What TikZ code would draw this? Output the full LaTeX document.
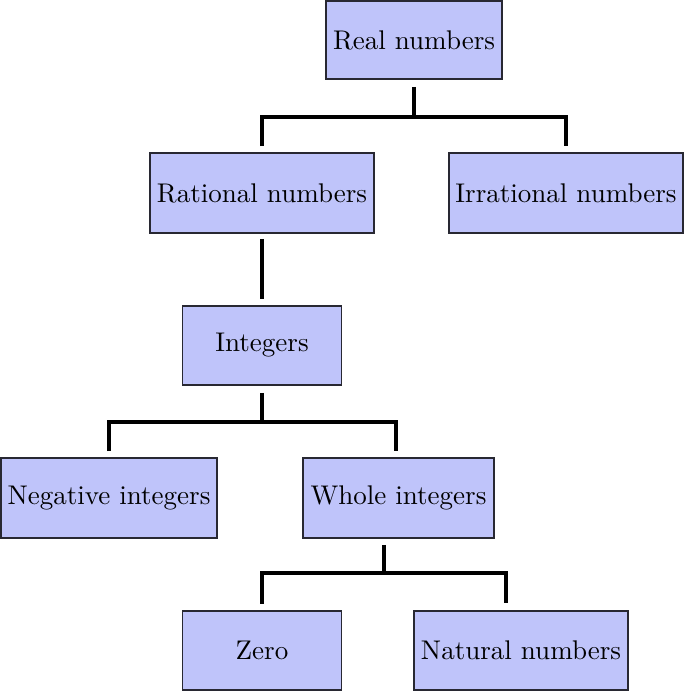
\documentclass[tikz,border=0pt]{standalone}
\usetikzlibrary{calc}
\definecolor{boxfill}{RGB}{191,196,250}
\definecolor{boxline}{RGB}{40,40,50}
\begin{document}
\begin{tikzpicture}[x=0.37pt,y=-0.37pt,
  nbox/.style={draw=boxline, fill=boxfill, line width=0.6pt, inner sep=0pt,
    minimum width=#1*0.37pt, minimum height=79*0.37pt, font=\fontsize{10}{12}\selectfont},
  conn/.style={line width=1.15pt, black}]
\useasboundingbox (0,0) rectangle (685,691);
\node[nbox=176, minimum height=78*0.37pt] (real) at (414,40) {Real numbers};
\node[nbox=224, minimum height=80*0.37pt] (rat) at (262,193) {Rational numbers};
\node[nbox=234, minimum height=80*0.37pt] (irr) at (566,193) {Irrational numbers};
\node[nbox=159] (int) at (262,345.5) {Integers};
\node[nbox=216, minimum height=80*0.37pt] (neg) at (109,498) {Negative integers};
\node[nbox=191, minimum height=80*0.37pt] (whole) at (398.5,498) {Whole integers};
\node[nbox=159] (zero) at (262,650.5) {Zero};
\node[nbox=214] (nat) at (521,650.5) {Natural numbers};
% level 1
\coordinate (b1) at (414,117);
\draw[conn] ([yshift=-2.6pt]real.south) -- (b1);
\draw[conn] ([yshift=2.2pt]rat.north) -- (rat.north |- b1) -- (irr.north |- b1) -- ([yshift=2.2pt]irr.north);
% rational to integers
\draw[conn] ([yshift=-1.9pt]rat.south) -- ([yshift=2.2pt]int.north);
% level 2
\coordinate (b2) at (262,422);
\coordinate (d2) at (396,422);
\draw[conn] ([yshift=-2.6pt]int.south) -- (b2);
\draw[conn] ([yshift=2.2pt]neg.north) -- (neg.north |- b2) -- (d2) -- ($(d2 |- whole.north)+(0,-6)$);
% level 3
\coordinate (b3) at (384,573);
\coordinate (d3) at (506,573);
\draw[conn] ($(b3 |- whole.south)+(0,6)$) -- (b3);
\draw[conn] ([yshift=2.4pt]zero.north) -- (zero.north |- b3) -- (d3) -- ($(d3 |- nat.north)+(0,-7)$);
\end{tikzpicture}
\end{document}
